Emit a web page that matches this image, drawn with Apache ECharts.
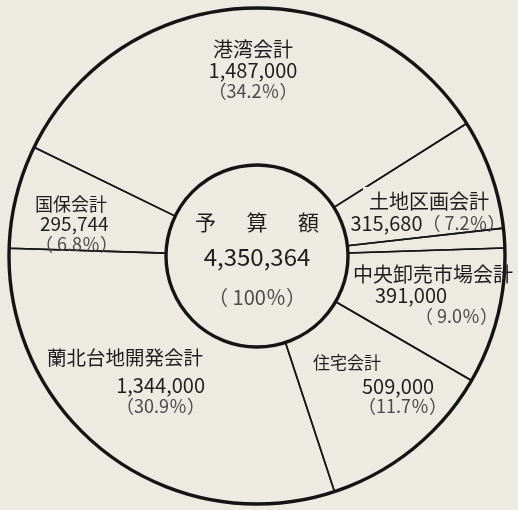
<!DOCTYPE html>
<html>
<head>
<meta charset="utf-8">
<script src="https://cdn.jsdelivr.net/npm/echarts@6/dist/echarts.min.js"></script>
<style>
    html, body { margin: 0; padding: 0; background: #edeae2; }
    #chart { width: 518px; height: 510px; }
</style>
</head>
<body>
<div id="chart"></div>
<script>
// budget by account (unlabelled thin wedge = remainder of the total)
var names = ['港湾会計', '土地区画会計', '', '中央卸売市場会計', '住宅会計', '蘭北台地開発会計', '国保会計'];
var amounts = [1487000, 315680, 7940, 391000, 509000, 1344000, 295744];
var shares = ['34.2', '7.2', '', '9.0', '11.7', '30.9', '6.8'];
var totalAmount = 4350364;
var totalShare = '100';

var BG = '#edeae2';
var INK = '#1e1e1e';
var GREY = '#4a4a4a';
var FONT = '"Noto Sans CJK JP", sans-serif';

function num(n) { return n.toLocaleString('en-US'); }

// where each label block sits (anchor + alignment)
var spots = [
    { x: 253, y: 39, align: 'center' },
    { x: 428, y: 187, align: 'center' },
    null,
    { x: 353, y: 264, align: 'left' },
    { x: 313, y: 350, align: 'left' },
    { x: 205, y: 342, align: 'right' },
    { x: 35, y: 194, align: 'left' }
];

// per-label text styles
var richs = [
    { n: { fontSize: 20, lineHeight: 21 }, v: { fontSize: 20, lineHeight: 21 }, p: { fontSize: 18, lineHeight: 21, color: GREY } },
    { n: { fontSize: 20, lineHeight: 24, backgroundColor: BG, padding: [4, 4, 0, 6] }, v: { fontSize: 20, lineHeight: 24 }, p: { fontSize: 18, lineHeight: 24, color: GREY } },
    null,
    { n: { fontSize: 20, lineHeight: 21 }, v: { fontSize: 20, lineHeight: 21, padding: [0, 0, 0, 22] }, p: { fontSize: 18, lineHeight: 21, color: GREY, padding: [0, 0, 0, 62] } },
    { n: { fontSize: 17, lineHeight: 26 }, v: { fontSize: 20, lineHeight: 20, padding: [0, 0, 0, 49] }, p: { fontSize: 18, lineHeight: 20, color: GREY, padding: [0, 0, 0, 45] } },
    { n: { fontSize: 19.5, lineHeight: 32, padding: [0, 2, 0, 0] }, v: { fontSize: 20, lineHeight: 22 }, p: { fontSize: 18, lineHeight: 20, color: GREY } },
    { n: { fontSize: 18, lineHeight: 20 }, v: { fontSize: 19, lineHeight: 20, padding: [0, 0, 0, 5] }, p: { fontSize: 18, lineHeight: 20, color: GREY } }
];

function labelText(i) {
    var pad = shares[i].length < 4 ? ' ' : '';
    var p = '{p|（' + pad + shares[i] + '％）}';
    if (i === 1) {
        return '{n|' + names[i] + '}\n{v|' + num(amounts[i]) + '}' + p;
    }
    return '{n|' + names[i] + '}\n{v|' + num(amounts[i]) + '}\n' + p;
}

var pieData = names.map(function (name, i) {
    var item = { name: name || ('other' + i), value: amounts[i] };
    if (!richs[i]) {
        item.label = { show: false };
    } else {
        item.label = { formatter: labelText(i), rich: richs[i] };
    }
    return item;
});

var chart = echarts.init(document.getElementById('chart'));
chart.setOption({
    backgroundColor: BG,
    animation: false,
    textStyle: { fontFamily: FONT, color: INK },
    series: [{
        type: 'pie',
        center: [257, 256],
        radius: [91, 248],
        startAngle: 154,
        clockwise: true,
        minAngle: 4.6,
        silent: true,
        emphasis: { disabled: true },
        itemStyle: { color: 'rgba(0,0,0,0)', borderColor: '#161616', borderWidth: 1.6 },
        label: { show: true, position: 'inside', fontFamily: FONT, color: INK },
        labelLine: { show: false },
        labelLayout: function (params) {
            var s = spots[params.dataIndex];
            if (!s) return {};
            return { x: s.x, y: s.y, align: s.align, verticalAlign: 'top' };
        },
        data: pieData
    }, {
        // heavy outer and inner rings + centre total
        type: 'pie',
        center: [257, 256],
        radius: [91, 248],
        silent: true,
        emphasis: { disabled: true },
        itemStyle: { color: 'rgba(0,0,0,0)', borderColor: '#141414', borderWidth: 3.4 },
        label: {
            show: true,
            position: 'center',
            fontFamily: FONT,
            color: INK,
            padding: [12, 0, 0, 0],
            formatter: '{t|予 \u3000 算 \u3000 額}\n{v|' + num(totalAmount) + '}\n{p|（ ' + totalShare + '％）}',
            rich: {
                t: { fontSize: 21, lineHeight: 34 },
                v: { fontSize: 24, lineHeight: 36 },
                p: { fontSize: 20, lineHeight: 44, color: GREY }
            }
        },
        labelLine: { show: false },
        data: [{ name: 'total', value: totalAmount }]
    }]
});
</script>
</body>
</html>
